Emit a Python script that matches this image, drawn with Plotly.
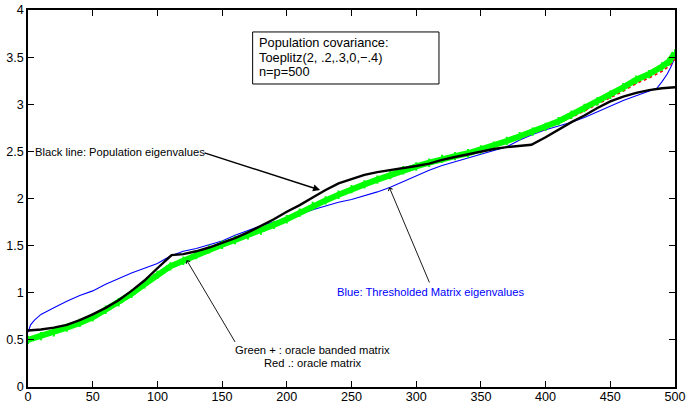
import plotly.graph_objects as go

# ---------------- data ----------------
black_x = [0, 10, 20, 30, 40, 50, 60, 70, 80, 90, 100, 105, 111, 120, 130, 140, 150, 160, 170, 180,
           190, 200, 210, 220, 230, 240, 251, 260, 270, 280, 290, 300, 310, 320, 330, 340, 350, 360,
           370, 380, 389, 400, 410, 420, 430, 440, 450, 460, 470, 480, 490, 500]
black_y = [0.60, 0.61, 0.63, 0.66, 0.71, 0.77, 0.84, 0.92, 1.02, 1.13, 1.26, 1.32, 1.40, 1.41, 1.44,
           1.48, 1.53, 1.58, 1.64, 1.71, 1.78, 1.86, 1.93, 2.01, 2.09, 2.16, 2.21, 2.25, 2.28, 2.30,
           2.32, 2.345, 2.37, 2.41, 2.44, 2.47, 2.50, 2.525, 2.545, 2.56, 2.57, 2.65, 2.73, 2.81, 2.88,
           2.96, 3.03, 3.08, 3.12, 3.15, 3.17, 3.18]

green_x = [0, 10, 20, 30, 40, 50, 60, 70, 80, 90, 100, 110, 120, 130, 140, 150, 160, 170, 180, 190,
           200, 210, 220, 230, 240, 250, 260, 270, 280, 290, 300, 310, 320, 330, 340, 350, 360, 370,
           380, 390, 400, 410, 420, 430, 440, 450, 460, 470, 480, 490, 495, 500]
green_y = [0.50, 0.54, 0.58, 0.63, 0.68, 0.74, 0.82, 0.90, 0.99, 1.09, 1.19, 1.28, 1.34, 1.40, 1.46,
           1.51, 1.56, 1.61, 1.66, 1.72, 1.78, 1.85, 1.92, 1.98, 2.04, 2.10, 2.15, 2.20, 2.25, 2.30,
           2.34, 2.38, 2.42, 2.45, 2.48, 2.52, 2.56, 2.61, 2.66, 2.71, 2.76, 2.82, 2.89, 2.96, 3.03,
           3.10, 3.18, 3.26, 3.32, 3.40, 3.45, 3.54]

red_x = green_x
red_y = [0.50, 0.54, 0.58, 0.63, 0.68, 0.74, 0.82, 0.90, 0.99, 1.09, 1.19, 1.28, 1.35, 1.40, 1.46,
         1.51, 1.56, 1.61, 1.67, 1.73, 1.79, 1.86, 1.93, 1.99, 2.06, 2.11, 2.16, 2.20, 2.25, 2.29,
         2.33, 2.37, 2.41, 2.44, 2.47, 2.51, 2.55, 2.59, 2.64, 2.69, 2.74, 2.80, 2.86, 2.93, 3.00,
         3.07, 3.14, 3.22, 3.28, 3.35, 3.40, 3.48]

blue_x = [0, 2, 5, 10, 20, 30, 40, 50, 60, 70, 80, 90, 100, 110, 120, 130, 140, 150, 160, 170, 180,
          190, 200, 210, 220, 230, 240, 250, 260, 270, 280, 290, 300, 310, 320, 330, 340, 350, 360,
          370, 380, 390, 400, 410, 420, 430, 440, 450, 460, 470, 480, 486, 490, 494, 497, 500]
blue_y = [0.58, 0.66, 0.71, 0.77, 0.84, 0.91, 0.97, 1.02, 1.09, 1.15, 1.21, 1.26, 1.31, 1.39, 1.44,
          1.47, 1.51, 1.55, 1.61, 1.66, 1.71, 1.75, 1.79, 1.83, 1.88, 1.92, 1.96, 1.99, 2.03, 2.07,
          2.12, 2.18, 2.24, 2.30, 2.35, 2.39, 2.43, 2.47, 2.51, 2.55, 2.62, 2.68, 2.73, 2.77, 2.81,
          2.86, 2.92, 2.98, 3.04, 3.09, 3.14, 3.17, 3.24, 3.32, 3.40, 3.50]

x_ticks = [0, 50, 100, 150, 200, 250, 300, 350, 400, 450, 500]
y_ticks = [0, 0.5, 1, 1.5, 2, 2.5, 3, 3.5, 4]
y_tick_labels = ["0", "0.5", "1", "1.5", "2", "2.5", "3", "3.5", "4"]

FONT = "Liberation Sans, Arial, Helvetica, sans-serif"

fig = go.Figure()

fig.add_trace(go.Scatter(x=blue_x, y=blue_y, mode="lines",
                         line=dict(color="#0000ff", width=1.1), showlegend=False))
fig.add_trace(go.Scatter(x=red_x, y=red_y, mode="lines",
                         line=dict(color="#ff0000", width=1.6, dash="dot"), showlegend=False))
fig.add_trace(go.Scatter(x=green_x, y=green_y, mode="lines+markers",
                         line=dict(color="#00ff00", width=6),
                         marker=dict(symbol="cross-thin", size=6, color="#00ff00",
                                     line=dict(color="#00ff00", width=2)),
                         showlegend=False))
fig.add_trace(go.Scatter(x=black_x, y=black_y, mode="lines",
                         line=dict(color="#000000", width=2.4), showlegend=False))

# text box
fig.add_shape(type="rect", xref="x", yref="y", x0=173.6, x1=317.6, y0=3.215, y1=3.767,
              line=dict(color="#000000", width=1), fillcolor="white", layer="above")
box_lines = ["Population covariance:", "Toeplitz(2, .2,.3,0,\u2212.4)", "n=p=500"]
box_ys = [3.658, 3.501, 3.347]
for txt, yy in zip(box_lines, box_ys):
    fig.add_annotation(x=177.2, y=yy, xref="x", yref="y", text=txt, showarrow=False,
                       xanchor="left", yanchor="middle",
                       font=dict(family=FONT, size=12.8, color="#000000"))

# Black line annotation
fig.add_annotation(x=3.9, y=2.49, xref="x", yref="y", text="Black line: Population eigenvalues",
                   showarrow=False, xanchor="left", yanchor="middle",
                   font=dict(family=FONT, size=11.2, color="#000000"))
fig.add_annotation(x=225.7, y=2.09, ax=135.2, ay=2.49, xref="x", yref="y", axref="x", ayref="y",
                   text="", showarrow=True, arrowhead=2, arrowsize=1, arrowwidth=1.4,
                   arrowcolor="#000000")

# Blue annotation
fig.add_annotation(x=311.2, y=1.008, xref="x", yref="y", text="Blue: Thresholded Matrix eigenvalues",
                   showarrow=False, xanchor="center", yanchor="middle",
                   font=dict(family=FONT, size=11.2, color="#0000ff"))
fig.add_annotation(x=279.2, y=2.119, ax=310.7, ay=1.093, xref="x", yref="y", axref="x", ayref="y",
                   text="", showarrow=True, arrowhead=4, arrowsize=1, arrowwidth=0.9,
                   arrowcolor="#000000")

# Green / red annotation
fig.add_annotation(x=220.1, y=0.393, xref="x", yref="y", text="Green + : oracle banded matrix",
                   showarrow=False, xanchor="center", yanchor="middle",
                   font=dict(family=FONT, size=11.2, color="#000000"))
fig.add_annotation(x=220.1, y=0.255, xref="x", yref="y", text="Red .: oracle matrix",
                   showarrow=False, xanchor="center", yanchor="middle",
                   font=dict(family=FONT, size=11.2, color="#000000"))
fig.add_annotation(x=122.6, y=1.347, ax=160.7, ay=0.462, xref="x", yref="y", axref="x", ayref="y",
                   text="", showarrow=True, arrowhead=4, arrowsize=1, arrowwidth=0.9,
                   arrowcolor="#000000")

axis_common = dict(showline=True, linecolor="#000000", linewidth=1.6, mirror="ticks",
                   ticks="inside", ticklen=6, tickwidth=1, tickcolor="#000000",
                   showgrid=False, zeroline=False, automargin=False,
                   tickfont=dict(family=FONT, size=12.6, color="#000000"))

fig.update_layout(
    width=686, height=403, autosize=False,
    margin=dict(l=28, r=11, t=10, b=16, pad=0),
    paper_bgcolor="white", plot_bgcolor="white",
    xaxis=dict(range=[0, 500], tickvals=x_ticks, ticktext=[str(v) for v in x_ticks],
               ticklabelstandoff=-3, **axis_common),
    yaxis=dict(range=[0, 4], tickvals=y_ticks, ticktext=y_tick_labels, **axis_common),
)

fig.write_html("out.html")
